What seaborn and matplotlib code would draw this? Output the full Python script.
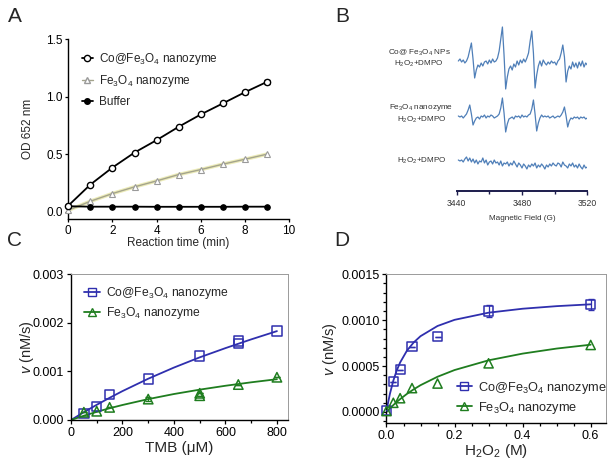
import numpy as np
import pandas as pd
import seaborn as sns
import matplotlib
matplotlib.use("Agg")
from matplotlib import pyplot as plt
from matplotlib.lines import Line2D
from matplotlib.ticker import MultipleLocator, FormatStrFormatter

# ---- panel A: OD 652 nm vs reaction time ----
time_min = [0, 1, 2, 3, 4, 5, 6, 7, 8, 9]
od_co = [0.055, 0.238, 0.386, 0.516, 0.624, 0.740, 0.847, 0.943, 1.040, 1.130]
od_co_err = [0, 0, 0, 0, 0, 0, 0, 0, 0.012, 0.015]
od_fe = [0.015, 0.093, 0.160, 0.218, 0.270, 0.325, 0.368, 0.415, 0.458, 0.502]
od_buffer = [0.050, 0.046, 0.046, 0.046, 0.045, 0.045, 0.045, 0.045, 0.046, 0.046]

# ---- panel B: EPR spectra (1 G steps, arbitrary units) ----
field_g = list(range(3441, 3521))
epr_co = [2, 4, 1, 3, 0, 2, 6, 13, 20, 4,
          -15, -7, -2, -4, 0, -3, 1, 2, -1, 3,
          0, 4, 1, 2, 5, 12, 24, 36, 8, -26,
          -14, -6, -3, -7, -1, -4, 2, -2, 3, 0,
          4, 1, 5, 10, 22, 32, 10, -25, -12, -3,
          2, -3, 3, 0, -2, 1, -1, 2, 0, 1,
          -2, 2, 4, 10, 18, 6, -19, -8, -3, -6,
          1, -4, 0, -5, 1, -3, 2, -4, 0, -2]
epr_fe = [1, 0, 1, -1, 1, 3, 7, 12, 3, -8,
          -4, -1, 0, -2, 1, 0, 2, -1, 1, 0,
          2, 1, -1, 0, 1, 3, 9, 19, 4, -15,
          -7, -2, -1, 0, -2, 1, 0, 1, -1, 2,
          0, 1, 0, 2, 3, 8, 17, 3, -14, -6,
          -1, 2, 0, 1, 0, 1, -1, 0, 1, -1,
          0, 1, 0, 2, 5, 10, 1, -10, -4, -1,
          -2, 0, -1, 0, -2, 0, -1, 0, -2, -1]
epr_blank = [3, 2, 3, 1, 4, 6, 2, 5, 1, 4,
             0, 3, -1, 2, 1, 5, 0, 3, -2, 1,
             2, -1, 3, 0, 1, -2, 2, -3, 0, -1,
             1, -3, 0, -2, 2, -1, -4, 0, -2, -5,
             -1, -3, -6, -2, -4, -1, -3, 0, -5, -2,
             -4, -1, -3, -6, -2, -4, -1, -3, 0, -2,
             -3, 0, -1, -4, 1, -2, -3, -5, -1, -3,
             0, -4, -2, -5, -1, -4, -6, -2, -5, -4]
epr_labels = ["Co@ Fe$_3$O$_4$ NPs\nH$_2$O$_2$+DMPO",
              "Fe$_3$O$_4$ nanozyme\nH$_2$O$_2$+DMPO",
              "H$_2$O$_2$+DMPO"]

# ---- panel C: rate vs TMB ----
tmb_co = [50, 100, 150, 300, 500, 650, 650, 800]
v_co_tmb = [0.000137, 0.000275, 0.00053, 0.00084, 0.00132, 0.00163, 0.00158, 0.00183]
tmb_fe = [50, 100, 150, 300, 500, 500, 650, 800]
v_fe_tmb = [0.00016, 0.00018, 0.00026, 0.00043, 0.00055, 0.00050, 0.00073, 0.00088]
v_fe_tmb_err = [0, 0, 0, 0.00004, 0, 0, 0, 0]
tmb_fit = [0, 50, 100, 150, 200, 300, 400, 500, 600, 700, 800]
co_tmb_fit = [0, 0.000161, 0.000313, 0.000457, 0.000595, 0.00085, 0.00108, 0.00129, 0.00148, 0.00166, 0.00183]
fe_tmb_fit = [0, 0.000088, 0.000168, 0.000242, 0.000309, 0.00043, 0.000535, 0.000625, 0.000705, 0.000776, 0.00084]

# ---- panel D: rate vs H2O2 ----
h2o2 = [0, 0.02, 0.04, 0.075, 0.15, 0.3, 0.6]
v_co_h2o2 = [0.00002, 0.00033, 0.00046, 0.00071, 0.00082, 0.00110, 0.00117]
v_co_h2o2_err = [0, 0, 0, 0, 0, 0.00007, 0.00006]
v_fe_h2o2 = [0.00001, 0.00010, 0.00015, 0.00026, 0.00031, 0.00053, 0.00073]
h2o2_fit = [0, 0.005, 0.01, 0.02, 0.03, 0.04, 0.06, 0.08, 0.1, 0.15, 0.2, 0.3, 0.4, 0.5, 0.6]
co_h2o2_fit = [0.00002, 0.000107, 0.000197, 0.000341, 0.000452, 0.000539, 0.000668, 0.000758,
               0.000826, 0.000937, 0.001004, 0.001082, 0.001125, 0.001153, 0.001173]
fe_h2o2_fit = [0, 0.0000198, 0.0000389, 0.000075, 0.000109, 0.00014, 0.000197, 0.000247,
               0.000292, 0.000384, 0.000457, 0.000563, 0.000636, 0.000691, 0.000733]

W, H = 614, 463
BLUE = "#2f2fae"
GREEN = "#1f7d1f"
GREY_FE = "#a4a48c"

sns.set_theme(style="ticks")
plt.rcParams["font.family"] = ["Liberation Sans", "DejaVu Sans"]
plt.rcParams["mathtext.fontset"] = "custom"
plt.rcParams["mathtext.rm"] = "Liberation Sans"
plt.rcParams["mathtext.it"] = "Liberation Sans:italic"
plt.rcParams["mathtext.default"] = "regular"
plt.rcParams["xtick.major.size"] = 3
plt.rcParams["ytick.major.size"] = 3
plt.rcParams["xtick.minor.size"] = 2
plt.rcParams["ytick.minor.size"] = 2


def px_rect(l, t, r, b):
    return [l / W, 1 - b / H, (r - l) / W, (b - t) / H]


fig = plt.figure(figsize=(W / 100, H / 100), dpi=100)

# ================= A =================
axA = fig.add_axes(px_rect(68.3, 39.3, 289, 219))
sns.lineplot(x=time_min, y=od_fe, ax=axA, color="#ecebb8", lw=2.6, zorder=2)
sns.lineplot(x=time_min, y=od_fe, ax=axA, color=GREY_FE, lw=1.0, marker="^", ms=4.5,
             mfc="white", mec="#9a9a9a", mew=0.8, zorder=3, clip_on=False)
sns.lineplot(x=time_min, y=od_buffer, ax=axA, color="black", lw=1.3, marker="o", ms=4,
             mfc="black", mec="black", zorder=4, clip_on=False)
axA.errorbar(time_min, od_co, yerr=od_co_err, fmt="none", ecolor="black", elinewidth=0.8,
             capsize=2, zorder=4)
sns.lineplot(x=time_min, y=od_co, ax=axA, color="black", lw=1.3, marker="o", ms=4.5,
             mfc="white", mec="black", mew=1.0, zorder=5, clip_on=False)
axA.set_xlim(0, 10)
axA.set_ylim(-0.061, 1.5)
axA.set_xticks([0, 2, 4, 6, 8, 10])
axA.set_yticks([0, 0.5, 1.0, 1.5])
axA.yaxis.set_major_formatter(FormatStrFormatter("%.1f"))
axA.tick_params(labelsize=8.5, width=0.9, length=2.5, colors="black", pad=1.5)
for s in ["left", "bottom"]:
    axA.spines[s].set_color("black")
    axA.spines[s].set_linewidth(1.0)
sns.despine(ax=axA)
axA.set_xlabel("Reaction time (min)", fontsize=8.5, va="center")
axA.xaxis.set_label_coords(0.5, (219 - 243) / 179.7)
axA.set_ylabel("OD 652 nm", fontsize=8.5, va="center")
axA.yaxis.set_label_coords((28 - 68.3) / 220.7, 0.5)
handlesA = [
    Line2D([], [], color="black", lw=1.3, marker="o", ms=4.5, mfc="white", mec="black"),
    Line2D([], [], color=GREY_FE, lw=1.0, marker="^", ms=4.5, mfc="white", mec="#9a9a9a"),
    Line2D([], [], color="black", lw=1.3, marker="o", ms=4, mfc="black"),
]
axA.legend(handlesA, ["Co@Fe$_3$O$_4$ nanozyme", "Fe$_3$O$_4$ nanozyme", "Buffer"],
           loc="upper left", bbox_to_anchor=(0.06, 0.935), frameon=False, fontsize=8.5,
           handlelength=1.0, handletextpad=0.45, labelspacing=0.55, borderaxespad=0,
           borderpad=0)

# ================= B =================
axB = fig.add_axes(px_rect(456.7, 20, 587.3, 191))
trace_base = [128, 74, 28]
for vals, base in zip([epr_co, epr_fe, epr_blank], trace_base):
    yy = [base + v for v in vals]
    sns.lineplot(x=field_g, y=yy, ax=axB, color="#4f7fb8", lw=0.9)
axB.set_xlim(3440, 3520)
axB.set_ylim(0, 171)
axB.set_xticks([3440, 3480, 3520])
axB.xaxis.set_minor_locator(MultipleLocator(20))
axB.set_yticks([])
for s in ["left", "top", "right"]:
    axB.spines[s].set_visible(False)
axB.spines["bottom"].set_color("#1c1c4c")
axB.spines["bottom"].set_linewidth(1.4)
axB.tick_params(axis="x", which="both", labelsize=6.2, colors="#1c1c4c", labelcolor="#333333",
                width=1.0, pad=3)
axB.set_xlabel("Magnetic Field (G)", fontsize=5.9, color="#333333", va="center")
axB.xaxis.set_label_coords(0.5, (191 - 218) / 171)
label_pos = [(419, 58.5), (421.5, 113.5), (422, 160.7)]
for txt, (lx, ly) in zip(epr_labels, label_pos):
    fig.text(lx / W, 1 - ly / H, txt, ha="center", va="center", fontsize=5.9,
             color="#333333", linespacing=1.15)

# ================= C =================
axC = fig.add_axes(px_rect(71, 274.3, 288, 420))
sns.lineplot(x=tmb_fit, y=co_tmb_fit, ax=axC, color=BLUE, lw=1.3, zorder=2)
sns.lineplot(x=tmb_fit, y=fe_tmb_fit, ax=axC, color=GREEN, lw=1.3, zorder=2)
axC.errorbar(tmb_fe, v_fe_tmb, yerr=v_fe_tmb_err, fmt="none", ecolor=GREEN, elinewidth=0.8,
             capsize=2, zorder=3)
sns.scatterplot(x=tmb_co, y=v_co_tmb, ax=axC, marker="s", s=46, facecolor="none",
                edgecolor=BLUE, linewidth=1.1, zorder=4, clip_on=False)
sns.scatterplot(x=tmb_fe, y=v_fe_tmb, ax=axC, marker="^", s=46, facecolor="none",
                edgecolor=GREEN, linewidth=1.1, zorder=4, clip_on=False)
axC.set_xlim(0, 843)
axC.set_ylim(0, 0.003)
axC.set_xticks([0, 200, 400, 600, 800])
axC.set_yticks([0, 0.001, 0.002, 0.003])
axC.xaxis.set_minor_locator(MultipleLocator(100))
axC.yaxis.set_major_formatter(FormatStrFormatter("%.3f"))
axC.set_xlabel("TMB (μM)", fontsize=11, va="center")
axC.xaxis.set_label_coords(0.5, (420 - 448) / 145.7)
axC.set_ylabel(r"$\mathit{v}$ (nM/s)", fontsize=10.5, va="center")
axC.yaxis.set_label_coords((27 - 71) / 217, 0.5)
handlesC = [
    Line2D([], [], color=BLUE, lw=1.3, marker="s", ms=6, mfc="none", mec=BLUE),
    Line2D([], [], color=GREEN, lw=1.3, marker="^", ms=6, mfc="none", mec=GREEN),
]
axC.legend(handlesC, ["Co@Fe$_3$O$_4$ nanozyme", "Fe$_3$O$_4$ nanozyme"],
           loc="upper left", bbox_to_anchor=(0.06, 0.925), frameon=False, fontsize=8.7,
           handlelength=1.3, handletextpad=0.5, labelspacing=0.35, borderaxespad=0,
           borderpad=0)

# ================= D =================
axD = fig.add_axes(px_rect(386.5, 274.3, 606, 423))
sns.lineplot(x=h2o2_fit, y=co_h2o2_fit, ax=axD, color=BLUE, lw=1.3, zorder=2)
sns.lineplot(x=h2o2_fit, y=fe_h2o2_fit, ax=axD, color=GREEN, lw=1.3, zorder=2)
axD.errorbar(h2o2, v_co_h2o2, yerr=v_co_h2o2_err, fmt="none", ecolor=BLUE, elinewidth=0.9,
             capsize=2.5, zorder=3)
sns.scatterplot(x=h2o2, y=v_co_h2o2, ax=axD, marker="s", s=44, facecolor="none",
                edgecolor=BLUE, linewidth=1.1, zorder=4, clip_on=False)
sns.scatterplot(x=h2o2, y=v_fe_h2o2, ax=axD, marker="^", s=44, facecolor="none",
                edgecolor=GREEN, linewidth=1.1, zorder=4, clip_on=False)
axD.set_xlim(0, 0.645)
axD.set_ylim(-0.00012, 0.0015)
axD.set_xticks([0, 0.2, 0.4, 0.6])
axD.set_yticks([0, 0.0005, 0.001, 0.0015])
axD.xaxis.set_minor_locator(MultipleLocator(0.05))
axD.yaxis.set_minor_locator(MultipleLocator(0.0001))
axD.xaxis.set_major_formatter(FormatStrFormatter("%.1f"))
axD.yaxis.set_major_formatter(FormatStrFormatter("%.4f"))
axD.set_xlabel("H$_2$O$_2$ (M)", fontsize=11, va="center")
axD.xaxis.set_label_coords(0.5, (423 - 451) / 148.7)
axD.set_ylabel(r"$\mathit{v}$ (nM/s)", fontsize=10.5, va="center")
axD.yaxis.set_label_coords((330 - 386.5) / 219.5, 0.5)
axD.legend(handlesC, ["Co@Fe$_3$O$_4$ nanozyme", "Fe$_3$O$_4$ nanozyme"],
           loc="upper left", bbox_to_anchor=(0.32, 0.29), frameon=False, fontsize=9.2,
           handlelength=1.2, handletextpad=0.5, labelspacing=0.3, borderaxespad=0,
           borderpad=0)

for ax in [axC, axD]:
    ax.tick_params(which="both", labelsize=9, width=0.9, colors="black", pad=2)
    ax.tick_params(which="both", top=False, right=False)
    for s in ["left", "bottom"]:
        ax.spines[s].set_color("black")
        ax.spines[s].set_linewidth(1.0)
    for s in ["top", "right"]:
        ax.spines[s].set_color("#9a9a9a")
        ax.spines[s].set_linewidth(0.7)

# panel letters
for letter, (lx, ly) in zip("ABCD", [(15, 16), (342, 16), (15, 241), (342, 241)]):
    fig.text(lx / W, 1 - ly / H, letter, ha="center", va="center", fontsize=15)

fig.savefig("out.png", dpi=100)
